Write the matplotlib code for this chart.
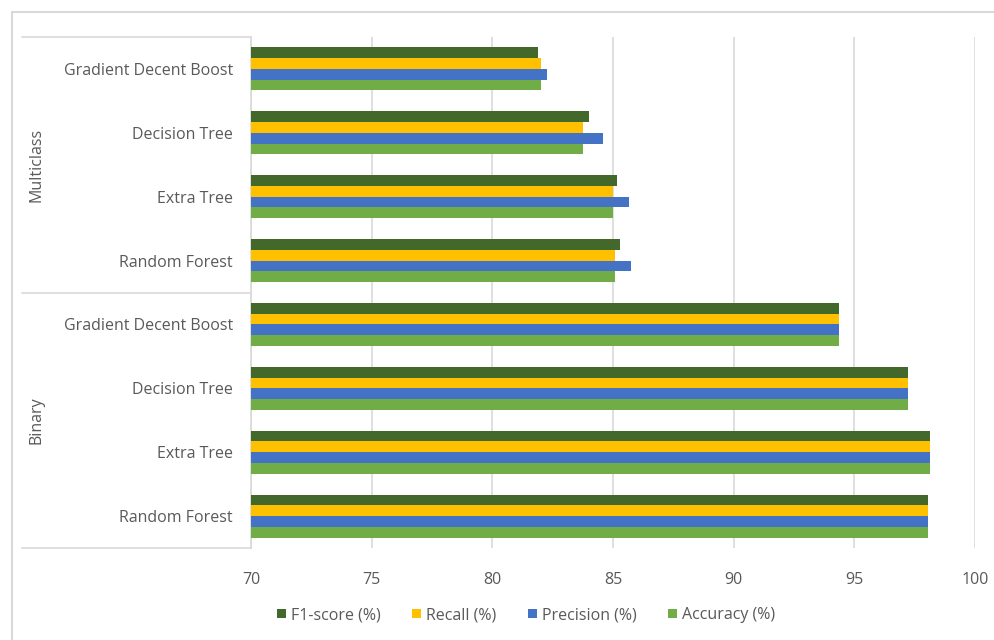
import numpy as np
import matplotlib
matplotlib.use("Agg")
import matplotlib.pyplot as plt
from matplotlib.patches import Rectangle
from matplotlib.transforms import blended_transform_factory

# categories listed bottom -> top (as Excel draws them)
models = ["Random Forest", "Extra Tree", "Decision Tree", "Gradient Decent Boost"]
groups = ["Binary", "Multiclass"]
categories = models + models

f1_score = [98.04, 98.12, 97.22, 94.37, 85.29, 85.17, 84.02, 81.88]
recall = [98.04, 98.12, 97.22, 94.37, 85.10, 84.98, 83.77, 82.02]
precision = [98.04, 98.12, 97.22, 94.37, 85.73, 85.67, 84.59, 82.27]
accuracy = [98.04, 98.12, 97.22, 94.37, 85.10, 84.98, 83.77, 82.02]

series_names = ["F1-score (%)", "Recall (%)", "Precision (%)", "Accuracy (%)"]
series_values = [f1_score, recall, precision, accuracy]
colors = ["#43682B", "#FFC000", "#4472C4", "#70AD47"]

plt.rcParams['font.family'] = ['Open Sans', 'DejaVu Sans']
text_col = "#595959"
grid_col = "#d9d9d9"
fs = 11.5

fig = plt.figure(figsize=(9.95, 6.4), dpi=100)
ax = fig.add_axes([251/995, 1-548/640, (975-251)/995, (548-37)/640])

y = np.arange(len(categories))
h = 0.168
# F1 on top, accuracy on bottom inside every category
offsets = [1.5*h, 0.5*h, -0.5*h, -1.5*h]
for vals, name, col, off in zip(series_values, series_names, colors, offsets):
    ax.barh(y + off, np.array(vals) - 70, left=70, height=h, color=col, label=name, zorder=3)

ax.set_xlim(70, 100)
ax.set_ylim(-0.5, len(categories) - 0.5)
ax.set_xticks(np.arange(70, 101, 5))
ax.set_yticks(y)
ax.set_yticklabels(categories)
ax.tick_params(axis='both', length=0, colors=text_col, labelsize=fs)
ax.tick_params(axis='x', pad=17)
ax.tick_params(axis='y', pad=13)
ax.grid(axis='x', color=grid_col, linewidth=1.2, zorder=0)
for s in ['top', 'right', 'bottom']:
    ax.spines[s].set_visible(False)
ax.spines['left'].set_color(grid_col)
ax.spines['left'].set_linewidth(1.2)

# group separators on the category axis
tr = blended_transform_factory(fig.transFigure, ax.transData)
for yy in [-0.5, 3.5, 7.5]:
    ax.plot([22/995, 251/995], [yy, yy], color=grid_col, lw=1.2, transform=tr, clip_on=False)
for gi, g in enumerate(groups):
    ax.text(37/995, gi*4 + 1.5, g, rotation=90, ha='center', va='center',
            color=text_col, fontsize=fs, transform=tr)

# outer chart border
fig.patches.append(Rectangle((12/995, -0.1), 1.0, 1.1 - 12/640, transform=fig.transFigure,
                             fill=False, edgecolor=grid_col, lw=1.5))

leg = fig.legend(loc='center', bbox_to_anchor=(526/995, 1-615/640), ncol=4, frameon=False,
                 handlelength=0.55, handleheight=0.55, handletextpad=0.3, columnspacing=2.0,
                 fontsize=fs)
for t in leg.get_texts():
    t.set_color(text_col)

fig.savefig("out.png", dpi=100)
